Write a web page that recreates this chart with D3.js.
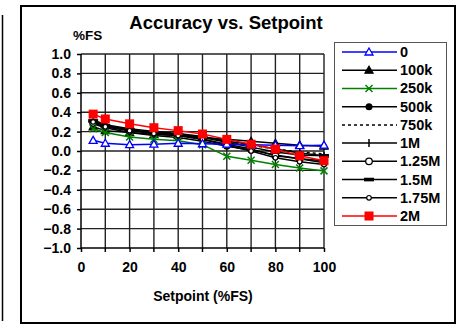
<!DOCTYPE html>
<html>
<head>
<meta charset="utf-8">
<script src="https://cdn.jsdelivr.net/npm/d3@7"></script>
<style>
  body { margin: 0; background: #fff; }
  svg { display: block; font-family: Arial, "Liberation Sans", sans-serif; }
</style>
</head>
<body>
<svg id="chart" width="466" height="328"></svg>
<script>
// setpoint values (%FS)
const setpoints = [5, 10, 20, 30, 40, 50, 60, 70, 80, 90, 100];

const s0    = [0.11, 0.08, 0.065, 0.07, 0.08, 0.075, 0.07, 0.065, 0.06, 0.055, 0.06];
const s100k = [0.25, 0.21, 0.19, 0.17, 0.16, 0.14, 0.12, 0.10, 0.08, 0.06, 0.05];
const s250k = [0.23, 0.19, 0.145, 0.12, 0.105, 0.065, -0.055, -0.095, -0.14, -0.175, -0.205];
const s500k = [0.28, 0.24, 0.19, 0.16, 0.14, 0.10, 0.05, 0.01, -0.04, -0.08, -0.10];
const s750k = [0.30, 0.26, 0.22, 0.19, 0.17, 0.14, 0.10, 0.06, 0.02, -0.01, -0.03];
const s1M   = [0.32, 0.27, 0.23, 0.20, 0.18, 0.15, 0.10, 0.07, 0.02, -0.02, -0.05];
const s125M = [0.29, 0.25, 0.21, 0.18, 0.16, 0.12, 0.07, 0.02, -0.05, -0.08, -0.12];
const s15M  = [0.31, 0.26, 0.22, 0.19, 0.17, 0.14, 0.09, 0.04, -0.01, -0.04, -0.05];
const s175M = [0.30, 0.25, 0.21, 0.18, 0.16, 0.12, 0.06, 0.00, -0.07, -0.11, -0.14];
const s2M   = [0.38, 0.33, 0.28, 0.24, 0.21, 0.175, 0.12, 0.07, 0.02, -0.05, -0.10];

const seriesNames = ['0', '100k', '250k', '500k', '750k', '1M', '1.25M', '1.5M', '1.75M', '2M'];
const seriesValues = [s0, s100k, s250k, s500k, s750k, s1M, s125M, s15M, s175M, s2M];

const xTicks = [0, 20, 40, 60, 80, 100];
const yTicks = [-1.0, -0.8, -0.6, -0.4, -0.2, 0.0, 0.2, 0.4, 0.6, 0.8, 1.0];

// look of each series
const styles = [
  {color: '#0000ff', marker: 'triOpen', dash: null},
  {color: '#000', marker: 'triFill', dash: null},
  {color: '#008000', marker: 'cross', dash: null},
  {color: '#000', marker: 'circleFill', dash: null},
  {color: '#000', marker: 'none', dash: '3,3'},
  {color: '#000', marker: 'plus', dash: null},
  {color: '#000', marker: 'circleOpen', dash: null},
  {color: '#000', marker: 'bar', dash: null},
  {color: '#000', marker: 'circleSmall', dash: null},
  {color: '#ff0000', marker: 'square', dash: null}
];

const svg = d3.select('#chart');

// outer frames
svg.append('line').attr('x1', 2.5).attr('x2', 2.5).attr('y1', 15).attr('y2', 321)
  .attr('stroke', '#000').attr('stroke-width', 1.5);
svg.append('rect').attr('x', 21).attr('y', 6).attr('width', 434).attr('height', 317)
  .attr('fill', 'none').attr('stroke', '#000').attr('stroke-width', 2);

const x = d3.scaleLinear().domain([0, 100]).range([81, 324]);
const y = d3.scaleLinear().domain([-1, 1]).range([248, 54]);

// grid
const grid = svg.append('g');
grid.selectAll('.gx').data(d3.range(10, 101, 10)).enter().append('line')
  .attr('x1', d => x(d)).attr('x2', d => x(d)).attr('y1', y(1)).attr('y2', y(-1))
  .attr('stroke', '#222').attr('stroke-width', 1.4);
grid.selectAll('.gy').data(yTicks.filter(d => d > -1)).enter().append('line')
  .attr('x1', x(0)).attr('x2', x(100)).attr('y1', d => y(d)).attr('y2', d => y(d))
  .attr('stroke', '#222').attr('stroke-width', 1.4);

// axes
const xAxis = d3.axisBottom(x).tickValues(xTicks).tickSize(4).tickPadding(10).tickFormat(d3.format('d'));
const yAxis = d3.axisLeft(y).tickValues(yTicks).tickSize(4).tickPadding(6).tickFormat(d3.format('.1f'));

const gx = svg.append('g').attr('transform', `translate(0,${y(-1)})`).call(xAxis);
const gy = svg.append('g').attr('transform', `translate(${x(0)},0)`).call(yAxis);
[gx, gy].forEach(g => {
  g.select('.domain').attr('stroke', '#000').attr('stroke-width', 1.5);
  g.selectAll('.tick line').attr('stroke', '#000').attr('stroke-width', 1.5);
  g.selectAll('.tick text').attr('fill', '#000').style('font-size', '14px').style('font-weight', 'bold')
    .style('font-family', 'Arial, "Liberation Sans", sans-serif');
});
gx.select('.domain').attr('d', `M${x(0)},0H${x(100)}`);
gy.select('.domain').attr('d', `M0,${y(-1)}V${y(1)}`);
// extra x tick marks at the odd tens
gx.selectAll('.minor').data(d3.range(10, 101, 10).filter(d => d % 20)).enter().append('line')
  .attr('x1', d => x(d)).attr('x2', d => x(d)).attr('y1', 0).attr('y2', 4)
  .attr('stroke', '#000').attr('stroke-width', 1.5);

// titles
svg.append('text').attr('x', 226).attr('y', 29).attr('text-anchor', 'middle')
  .style('font-size', '18.5px').style('font-weight', 'bold').text('Accuracy vs. Setpoint');
svg.append('text').attr('x', 73).attr('y', 40)
  .style('font-size', '13.5px').style('font-weight', 'bold').text('%FS');
svg.append('text').attr('x', 203).attr('y', 301).attr('text-anchor', 'middle')
  .style('font-size', '14px').style('font-weight', 'bold').text('Setpoint (%FS)');

function drawMarker(g, type, color, cx, cy) {
  const sw = 1.3;
  if (type === 'triOpen' || type === 'triFill') {
    g.append('path').attr('d', `M${cx},${cy - 4}L${cx + 4},${cy + 3}L${cx - 4},${cy + 3}Z`)
      .attr('fill', type === 'triFill' ? color : '#fff').attr('stroke', color).attr('stroke-width', sw);
  } else if (type === 'cross') {
    g.append('path').attr('d', `M${cx - 3.5},${cy - 3.5}L${cx + 3.5},${cy + 3.5}M${cx - 3.5},${cy + 3.5}L${cx + 3.5},${cy - 3.5}`)
      .attr('stroke', color).attr('stroke-width', 1.5);
  } else if (type === 'circleFill') {
    g.append('circle').attr('cx', cx).attr('cy', cy).attr('r', 3.5).attr('fill', color);
  } else if (type === 'plus') {
    g.append('path').attr('d', `M${cx},${cy - 4}V${cy + 4}`).attr('stroke', color).attr('stroke-width', 1.5);
  } else if (type === 'circleOpen') {
    g.append('circle').attr('cx', cx).attr('cy', cy).attr('r', 3.3).attr('fill', '#fff')
      .attr('stroke', color).attr('stroke-width', sw);
  } else if (type === 'bar') {
    g.append('rect').attr('x', cx - 5).attr('y', cy - 1.8).attr('width', 10).attr('height', 3.6).attr('fill', color);
  } else if (type === 'circleSmall') {
    g.append('circle').attr('cx', cx).attr('cy', cy).attr('r', 2.3).attr('fill', '#fff')
      .attr('stroke', color).attr('stroke-width', 1.2);
  } else if (type === 'square') {
    g.append('rect').attr('x', cx - 4.5).attr('y', cy - 4.5).attr('width', 9).attr('height', 9).attr('fill', color);
  }
}

const line = d3.line().x(d => x(d[0])).y(d => y(d[1]));

// draw in an order so 0 and 2M end on top like the reference
const order = [1, 3, 4, 5, 6, 7, 8, 2, 0, 9];
order.forEach(i => {
  const st = styles[i];
  const pts = setpoints.map((s, j) => [s, seriesValues[i][j]]);
  const g = svg.append('g');
  g.append('path').datum(pts).attr('d', line).attr('fill', 'none')
    .attr('stroke', st.color).attr('stroke-width', 1.5)
    .attr('stroke-dasharray', st.dash);
  pts.forEach(p => drawMarker(g, st.marker, st.color, x(p[0]), y(p[1])));
});

// legend
const legend = svg.append('g');
legend.append('rect').attr('x', 334.5).attr('y', 42.5).attr('width', 112).attr('height', 183)
  .attr('fill', '#fff').attr('stroke', '#555').attr('stroke-width', 1);
const ly = d3.scaleLinear().domain([0, seriesNames.length - 1]).range([52, 216]);
seriesNames.forEach((name, i) => {
  const st = styles[i];
  const g = legend.append('g');
  const yy = ly(i);
  g.append('line').attr('x1', 342).attr('x2', 397).attr('y1', yy).attr('y2', yy)
    .attr('stroke', st.color).attr('stroke-width', 1.5).attr('stroke-dasharray', st.dash);
  drawMarker(g, st.marker, st.color, 369, yy);
  g.append('text').attr('x', 400).attr('y', yy + 5)
    .style('font-size', '14.5px').style('font-weight', 'bold').text(name);
});
</script>
</body>
</html>
